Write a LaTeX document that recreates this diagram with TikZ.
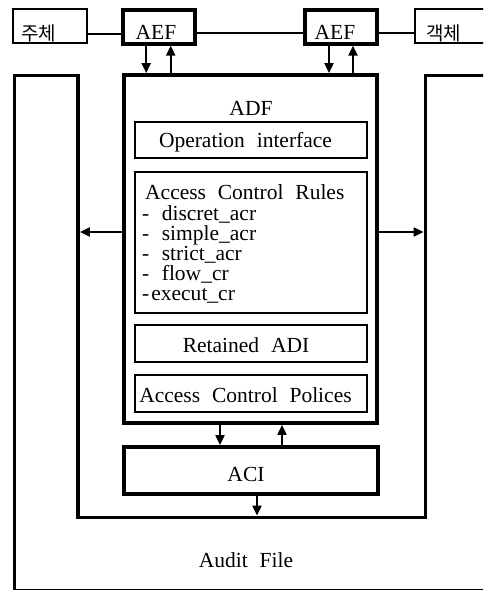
\documentclass[tikz,border=0pt]{standalone}
\usepackage{fontspec}
\setmainfont{Liberation Serif}[WordSpace=2.2]
\newfontfamily\kofont{Noto Sans CJK KR}
\usetikzlibrary{arrows.meta}
\tikzset{
  thickbox/.style={draw, line width=3.8pt, inner sep=0pt, rectangle},
  thinbox/.style={draw, line width=1.6pt, inner sep=0pt, rectangle},
  lbl/.style={font=\fontsize{21.5}{24}\selectfont, inner sep=0pt, anchor=base},
  rule/.style={font=\fontsize{21.5}{24}\selectfont, inner sep=0pt, anchor=base west},
  kolbl/.style={font=\kofont\fontsize{19}{22}\selectfont, inner sep=0pt},
  link/.style={line width=2.2pt},
  arr/.style={line width=2pt, -{Triangle[length=10pt,width=9pt]}},
  wall/.style={line width=3.8pt},
}
\begin{document}
\begin{tikzpicture}[x=1pt,y=-1pt]
\useasboundingbox (0,0) rectangle (483,591);
\clip (0,0) rectangle (483,591);

% outer U-shaped audit region
\coordinate (uLT) at (78,75.5);
\coordinate (uLB) at (78,517.5);
\coordinate (uRB) at (425.5,517.5);
\coordinate (uRT) at (425.5,75.5);
\coordinate (oLT) at (14.5,75.5);
\coordinate (oLB) at (14.5,589.5);
\coordinate (oRT) at (495,75.5);
\coordinate (oRB) at (495,589.5);
\draw[wall] (oLB) -- (oLT) -- (uLT) -- (uLB) -- (uRB) -- (uRT) -- (oRT);
\draw[line width=1.6pt] (oLB) -- (oRB);
\node[lbl] (audit) at (246,567) {Audit File};

% top row
\node[thinbox, minimum width=74pt, minimum height=34pt] (subj) at (50,26) {};
\node[kolbl] (subjt) at (38.5,33.5) {주체};
\node[thickbox, minimum width=72pt, minimum height=33.4pt] (aef1) at (158.7,27) {};
\node[lbl] (aef1t) at (156,39.3) {AEF};
\node[thickbox, minimum width=72pt, minimum height=33.4pt] (aef2) at (341,27) {};
\node[lbl] (aef2t) at (335,39.3) {AEF};
\node[thinbox, minimum width=90pt, minimum height=34pt] (obj) at (460,26) {};
\node[kolbl] (objt) at (443.5,33.5) {객체};

\draw[link] ([yshift=-8pt]subj.east) -- ([yshift=-8pt]subj.east -| aef1.west);
\draw[link] ([yshift=-6pt]aef1.east) -- ([yshift=-6pt]aef1.east -| aef2.west);
\draw[link] ([yshift=-6pt]aef2.east) -- ([yshift=-6pt]aef2.east -| obj.west);

% ADF
\node[thickbox, minimum width=253pt, minimum height=348pt] (adf) at (250.5,249) {};
\node[lbl] (adft) at (251,115) {ADF};
\node[thinbox, minimum width=232pt, minimum height=36pt] (opi) at (251,140) {};
\node[lbl] (opit) at (245.5,147) {Operation interface};
\node[thinbox, minimum width=232pt, minimum height=141pt] (acr) at (251,242.5) {};
\node[rule] (r0) at (145,199) {Access Control Rules};
\node[rule] (r1) at (142,220.5) {-\hspace{12.5pt}discret\_acr};
\node[rule] (r2) at (142,240.5) {-\hspace{12.5pt}simple\_acr};
\node[rule] (r3) at (142,260.5) {-\hspace{12.5pt}strict\_acr};
\node[rule] (r4) at (142,280.5) {-\hspace{12.5pt}flow\_cr};
\node[rule] (r5) at (142,300.5) {-\hspace{2pt}execut\_cr};
\node[thinbox, minimum width=232pt, minimum height=37pt] (ret) at (251,343.5) {};
\node[lbl] (rett) at (246,352.7) {Retained ADI};
\node[thinbox, minimum width=232pt, minimum height=37pt] (acp) at (251,393.5) {};
\node[lbl] (acpt) at (245.5,402.7) {Access Control Polices};

% ACI
\node[thickbox, minimum width=254pt, minimum height=47pt] (aci) at (251,470.5) {};
\node[lbl] (acit) at (246,481.7) {ACI};

% arrows AEF <-> ADF
\draw[arr] ([xshift=-12.5pt]aef1.south) -- ([xshift=-12.5pt]aef1.south |- adf.north);
\draw[arr] ([xshift=12pt]aef1.south |- adf.north) -- ([xshift=12pt]aef1.south);
\draw[arr] ([xshift=-12pt]aef2.south) -- ([xshift=-12pt]aef2.south |- adf.north);
\draw[arr] ([xshift=12pt]aef2.south |- adf.north) -- ([xshift=12pt]aef2.south);

% arrows ADF <-> ACI
\draw[arr] ([xshift=-30.5pt]adf.south) -- ([xshift=-30.5pt]adf.south |- aci.north);
\draw[arr] ([xshift=31.5pt]adf.south |- aci.north) -- ([xshift=31.5pt]adf.south);

% arrows to audit
\draw[arr, shorten >=1.9pt] ([xshift=6pt]aci.south) -- ([xshift=6pt]aci.south |- uLB);
\draw[arr, shorten >=1.9pt] ([yshift=17pt]adf.west) -- ([yshift=17pt]adf.west -| uLT);
\draw[arr, shorten >=1.9pt] ([yshift=17pt]adf.east) -- ([yshift=17pt]adf.east -| uRT);
\end{tikzpicture}
\end{document}
